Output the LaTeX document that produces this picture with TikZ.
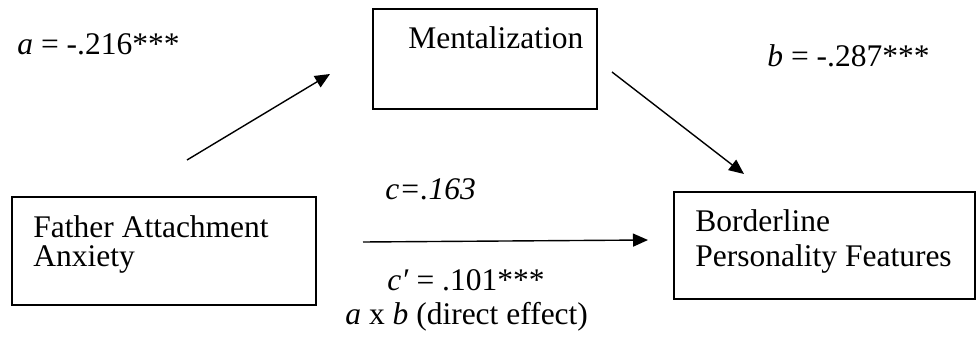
\documentclass[tikz,border=0pt]{standalone}
\usepackage{fontspec}
\setmainfont{Liberation Serif}
\usetikzlibrary{arrows.meta}
\begin{document}
\begin{tikzpicture}[x=0.5pt,y=-0.5pt,
  txt/.style={anchor=base west,inner sep=0pt,font=\fontsize{15.75}{18}\selectfont},
  boxline/.style={draw=black,line width=0.75pt},
  arr/.style={line width=0.7pt,-{Triangle[length=7.5pt,width=6.5pt]}}]
\useasboundingbox (0,0) rectangle (976,342);
% boxes
\draw[boxline] (373,9) rectangle (597,109);
\draw[boxline,line width=1pt] (12,197) rectangle (316,305);
\draw[boxline] (674,192) rectangle (975,299);
% box texts
\node[txt] (ment) at (408,49) {Mentalization};
\node[txt] (fa1) at (33,238) {Father Attachment};
\node[txt] (fa2) at (33,267) {Anxiety};
\node[txt] (bp1) at (695,232) {Borderline};
\node[txt] (bp2) at (695,267) {Personality Features};
% labels
\node[txt] (la) at (17,55) {\textit{a} = -.216***};
\node[txt] (lb) at (767,67) {\textit{b} = -.287***};
\node[txt] (lc) at (385,200) {\textit{c=.163}};
\node[txt] (lcp) at (387,291) {\textit{c′} = .101***};
\node[txt] (lab) at (345,324) {\textit{a} x \textit{b} (direct effect)};
% connectors
\coordinate (a1) at (187,160);
\coordinate (a2) at (330,74);
\coordinate (b1) at (612,72);
\coordinate (b2) at (744,174);
\coordinate (c1) at (363,242);
\coordinate (c2) at (648,240);
\draw[arr] (a1) -- (a2);
\draw[arr] (b1) -- (b2);
\draw[arr] (c1) -- (c2);
\end{tikzpicture}
\end{document}
